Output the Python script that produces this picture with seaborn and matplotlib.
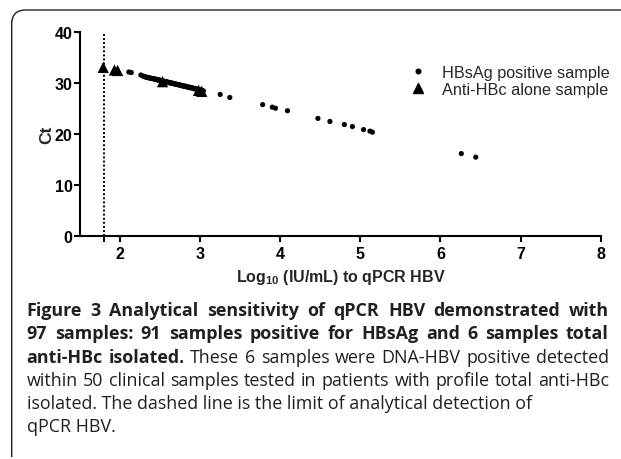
import matplotlib
matplotlib.use("Agg")
import matplotlib.pyplot as plt
import seaborn as sns
import pandas as pd
from matplotlib.path import Path
from matplotlib.patches import PathPatch
from matplotlib.lines import Line2D

# ---------------- data ----------------
hbsag_log = [2.11, 2.14, 2.26,
             2.29, 2.30, 2.32, 2.33, 2.34, 2.36, 2.37, 2.38, 2.40, 2.41, 2.42, 2.43, 2.45,
             2.46, 2.47, 2.48, 2.49, 2.50, 2.51, 2.52, 2.53, 2.54, 2.55, 2.56, 2.57, 2.58,
             2.59, 2.60, 2.61, 2.62, 2.63, 2.64, 2.65, 2.66, 2.67, 2.68, 2.69, 2.70, 2.71,
             2.72, 2.73, 2.74, 2.75, 2.76, 2.77, 2.78, 2.79, 2.80, 2.81, 2.82, 2.83, 2.84,
             2.85, 2.86, 2.87, 2.88, 2.89, 2.90, 2.91, 2.92, 2.93, 2.94, 2.95, 2.96, 2.97,
             2.98, 2.99, 3.00, 3.01, 3.02, 3.04,
             3.25, 3.37, 3.78, 3.90, 3.94, 4.09, 4.47, 4.62, 4.80, 4.90, 5.04, 5.12, 5.15,
             6.26, 6.44]
hbsag_ct = [32.1, 32.0, 31.5,
            31.3, 31.2, 31.1, 31.1, 31.0, 31.0, 30.9, 30.9, 30.8, 30.8, 30.8, 30.7, 30.7,
            30.6, 30.6, 30.5, 30.5, 30.5, 30.4, 30.4, 30.3, 30.3, 30.3, 30.2, 30.2, 30.2,
            30.1, 30.1, 30.0, 30.0, 30.0, 29.9, 29.9, 29.9, 29.8, 29.8, 29.7, 29.7, 29.7,
            29.6, 29.6, 29.6, 29.5, 29.5, 29.4, 29.4, 29.4, 29.3, 29.3, 29.3, 29.2, 29.2,
            29.1, 29.1, 29.1, 29.0, 29.0, 29.0, 28.9, 28.9, 28.8, 28.8, 28.8, 28.7, 28.7,
            28.7, 28.6, 28.6, 28.5, 28.5, 28.4,
            27.7, 27.1, 25.7, 25.2, 25.0, 24.5, 23.0, 22.4, 21.8, 21.4, 20.8, 20.5, 20.3,
            16.1, 15.4]
antihbc_log = [1.79, 1.93, 1.97, 2.53, 2.98, 3.02]
antihbc_ct = [33.0, 32.5, 32.4, 30.2, 28.5, 28.3]
lod_log = 1.8
x_ticks = [2, 3, 4, 5, 6, 7, 8]
y_ticks = [0, 10, 20, 30, 40]
series_labels = ["HBsAg positive sample", "Anti-HBc alone sample"]
x_label = r"Log$_{\mathbf{10}}$ (IU/mL) to qPCR HBV"
y_label = "Ct"

caption_lines = [
    [("Figure 3 Analytical sensitivity of qPCR HBV demonstrated with", True)],
    [("97 samples: 91 samples positive for HBsAg and 6 samples total", True)],
    [("anti-HBc isolated.", True), ("These 6 samples were DNA-HBV positive detected", False)],
    [("within 50 clinical samples tested in patients with profile total anti-HBc", False)],
    [("isolated. The dashed line is the limit of analytical detection of", False)],
    [("qPCR HBV.", False)],
]
caption_justify = [True, True, True, True, False, False]

# ---------------- style ----------------
sns.set_style("ticks")
plt.rcParams.update({
    "mathtext.fontset": "custom",
    "mathtext.rm": "Liberation Sans",
    "mathtext.bf": "Liberation Sans:bold",
    "axes.linewidth": 1.5,
    "xtick.major.width": 1.5, "ytick.major.width": 1.5,
    "xtick.minor.width": 1.5,
    "xtick.major.size": 4.4, "ytick.major.size": 4.4,
    "xtick.minor.size": 4.4,
    "xtick.color": "black", "ytick.color": "black",
    "axes.edgecolor": "black",
})
plt.rcParams["font.family"] = ["Liberation Sans", "DejaVu Sans"]

W, H = 621, 460
fig = plt.figure(figsize=(W / 100, H / 100), dpi=100)
fig.patch.set_facecolor("white")

ax_l, ax_r, ax_t, ax_b = 80, 600.7, 32.7, 236.7
ax = fig.add_axes([ax_l / W, 1 - ax_b / H, (ax_r - ax_l) / W, (ax_b - ax_t) / H])

df = pd.DataFrame({
    "log": hbsag_log + antihbc_log,
    "ct": hbsag_ct + antihbc_ct,
    "group": [series_labels[0]] * len(hbsag_log) + [series_labels[1]] * len(antihbc_log),
})
sns.scatterplot(data=df, x="log", y="ct", hue="group", style="group", size="group",
                palette={series_labels[0]: "black", series_labels[1]: "black"},
                markers={series_labels[0]: "o", series_labels[1]: "^"},
                sizes={series_labels[0]: 14, series_labels[1]: 66},
                linewidth=0, edgecolor="none", legend=False, ax=ax)

ax.axvline(lod_log, color="black", lw=1.4, linestyle=(0, (1, 1.1)), zorder=0)

ax.set_xlim(1.5, 8)
ax.set_ylim(0, 40)
ax.set_xticks(x_ticks)
ax.set_xticks([lod_log], minor=True)
ax.set_yticks(y_ticks)
ax.tick_params(axis="x", which="both", pad=3.3, labelsize=11.5)
ax.tick_params(axis="y", pad=1.0, labelsize=11.5)
for lab in ax.get_xticklabels() + ax.get_yticklabels():
    lab.set_fontweight("bold")
sns.despine(ax=ax)
ax.set_xlabel(x_label, fontsize=11.5, fontweight="bold")
ax.set_ylabel(y_label, fontsize=12.5, fontweight="bold")
ax.xaxis.set_label_coords(0.5, -0.155)
ax.yaxis.set_label_coords(-0.05, 0.5)

handles = [
    Line2D([], [], marker="o", color="black", linestyle="none", markersize=3.3),
    Line2D([], [], marker="^", color="black", linestyle="none", markersize=7.5),
]
ax.legend(handles, series_labels, loc="upper left",
          bbox_to_anchor=((410 - ax_l) / (ax_r - ax_l), 1 - (66 - ax_t) / (ax_b - ax_t)),
          frameon=False, fontsize=11.7, handlelength=1.0, handletextpad=0.95,
          labelspacing=0.12, borderpad=0, borderaxespad=0)

# ---------------- frame ----------------
bx, by, rad = 11.7, 11.0, 14.0
verts = [(bx, 458), (bx, by + rad), (bx, by), (bx + rad, by), (W + 2, by)]
codes = [Path.MOVETO, Path.LINETO, Path.CURVE3, Path.CURVE3, Path.LINETO]
verts = [(x / W, 1 - y / H) for x, y in verts]
fig.patches.append(PathPatch(Path(verts, codes), transform=fig.transFigure,
                             fill=False, lw=1.0, edgecolor="#231f20"))

# ---------------- caption (justified paragraph) ----------------
cap_font = ["Open Sans", "DejaVu Sans"]
cap_color = "#231f20"
x0, x1 = 26.7, 609.0
baselines = [316.0, 339.3, 362.7, 386.0, 408.7, 431.7]
renderer = fig.canvas.get_renderer()

def line_text(segs):
    return " ".join(s for s, _ in segs)

# choose a font size so the tightest justified line fits with natural spacing
probe_size = 12.0
fits = []
for segs, just in zip(caption_lines, caption_justify):
    if not just:
        continue
    wsum = 0.0
    for s, b in segs:
        t = fig.text(0, 0, s + " ", fontsize=probe_size, family=cap_font,
                     fontweight="bold" if b else "normal")
        wsum += t.get_window_extent(renderer).width
        t.remove()
    fits.append(probe_size * (x1 - x0) / wsum)
cap_size = min(fits) * 0.995

for segs, just, yb in zip(caption_lines, caption_justify, baselines):
    yf = 1 - yb / H
    if not just:
        fig.text(x0 / W, yf, line_text(segs), fontsize=cap_size, family=cap_font,
                 fontweight="bold" if segs[0][1] else "normal",
                 va="baseline", ha="left", color=cap_color)
        continue
    words = [(w, b) for s, b in segs for w in s.split(" ")]
    texts = [fig.text(0, yf, w, fontsize=cap_size, family=cap_font,
                      fontweight="bold" if b else "normal",
                      va="baseline", ha="left", color=cap_color) for w, b in words]
    widths = [t.get_window_extent(renderer).width for t in texts]
    gap = (x1 - x0 - sum(widths)) / (len(texts) - 1)
    x = x0
    for t, w in zip(texts, widths):
        t.set_x(x / W)
        x += w + gap

fig.savefig("out.png", dpi=100)
